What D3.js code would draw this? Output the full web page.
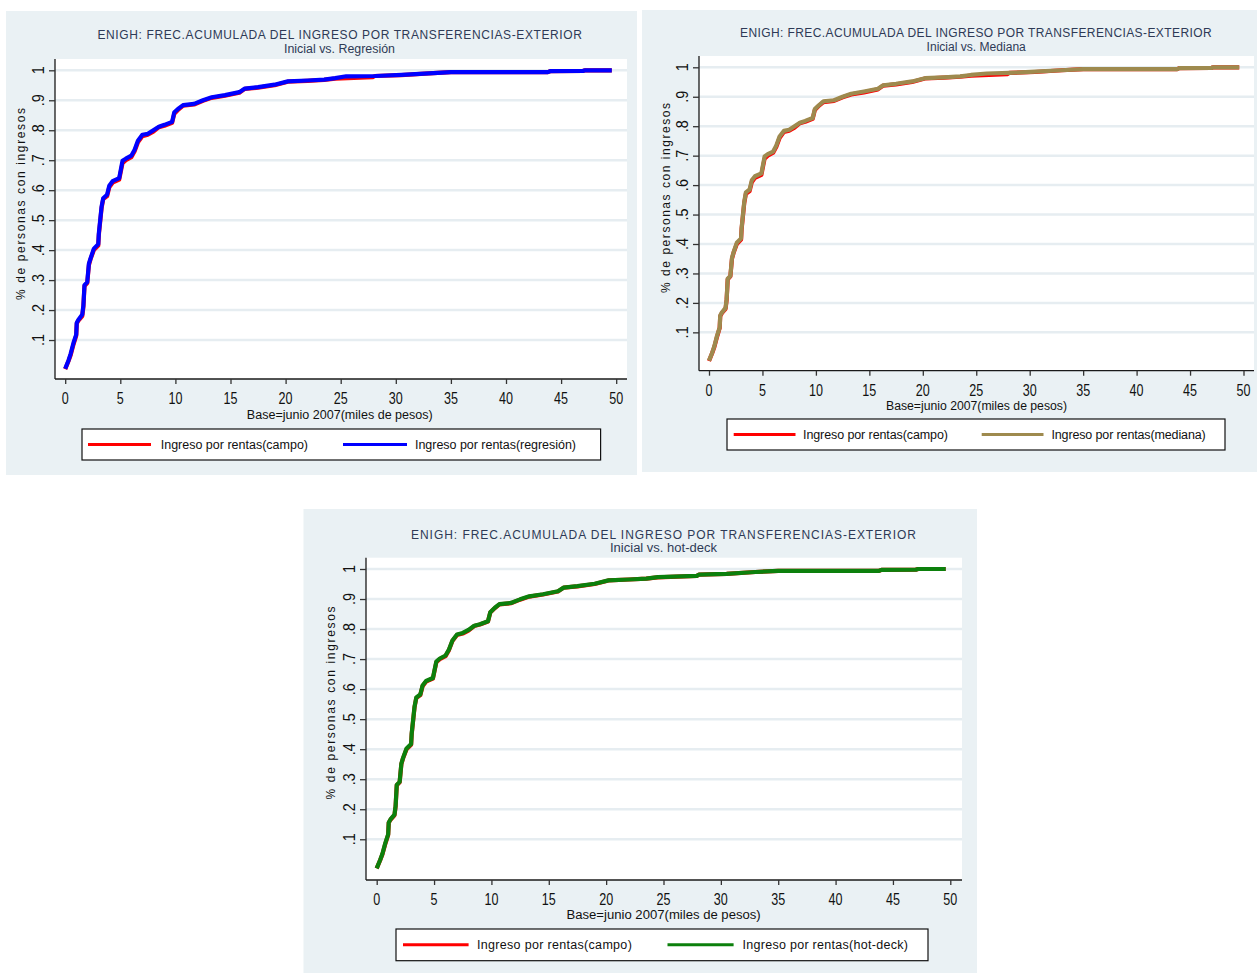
<!DOCTYPE html>
<html><head><meta charset="utf-8">
<script src="https://cdn.jsdelivr.net/npm/d3@7"></script>
<style>
html,body{margin:0;padding:0;background:#ffffff;}
svg text{font-family:"Liberation Sans Narrow","Arial Narrow","Liberation Sans",Arial,sans-serif;}
</style></head>
<body>
<svg id="chart" width="1257" height="974"></svg>
<script>
// ---------- DATA ----------
const titleText = "ENIGH: FREC.ACUMULADA DEL INGRESO POR TRANSFERENCIAS-EXTERIOR";
const subtitles = ["Inicial vs. Regresión", "Inicial vs. Mediana", "Inicial vs. hot-deck"];
const xAxisTitle = "Base=junio 2007(miles de pesos)";
const yAxisTitle = "% de personas con ingresos";
const xTicks = [0, 5, 10, 15, 20, 25, 30, 35, 40, 45, 50];
const yTicks = [0.1, 0.2, 0.3, 0.4, 0.5, 0.6, 0.7, 0.8, 0.9, 1];
const yTickLabels = [".1", ".2", ".3", ".4", ".5", ".6", ".7", ".8", ".9", "1"];
const legendCampo = "Ingreso por rentas(campo)";
const legendOther = ["Ingreso por rentas(regresión)", "Ingreso por rentas(mediana)", "Ingreso por rentas(hot-deck)"];

// Inicial (campo)
const campoX = [0, 0.3, 0.5, 0.75, 1.0, 1.05, 1.2, 1.55, 1.65, 1.75, 2.0, 2.15, 2.3, 2.6, 3.0, 3.05, 3.3, 3.45, 3.8, 4.0, 4.3, 4.9, 5.2, 5.5, 6.0, 6.3, 6.6, 7.0, 7.5, 8.0, 8.5, 9.0, 9.7, 9.9, 10.3, 10.7, 11.7, 12.5, 13.3, 14.5, 15.8, 16.3, 17.5, 19.0, 20.2, 22.0, 23.5, 24.5, 27.9, 28.1, 30.5, 33.0, 35.0, 43.8, 44.0, 47.0, 47.2, 49.6];
const campoY = [0.003, 0.03, 0.05, 0.085, 0.115, 0.155, 0.165, 0.18, 0.21, 0.28, 0.29, 0.35, 0.37, 0.40, 0.415, 0.45, 0.54, 0.57, 0.58, 0.61, 0.625, 0.635, 0.69, 0.70, 0.71, 0.73, 0.76, 0.78, 0.785, 0.795, 0.81, 0.815, 0.825, 0.855, 0.87, 0.882, 0.886, 0.898, 0.908, 0.915, 0.925, 0.938, 0.942, 0.95, 0.962, 0.965, 0.968, 0.972, 0.977, 0.981, 0.984, 0.99, 0.994, 0.994, 0.997, 0.998, 1.0, 1.0];
// Regresión
const regX = [0, 0.3, 0.5, 0.75, 1.0, 1.05, 1.2, 1.55, 1.65, 1.75, 2.0, 2.15, 2.3, 2.6, 3.0, 3.05, 3.3, 3.45, 3.8, 4.0, 4.3, 4.9, 5.2, 5.5, 6.0, 6.3, 6.6, 7.0, 7.5, 8.0, 8.5, 9.0, 9.7, 9.9, 10.3, 10.7, 11.7, 12.5, 13.3, 14.5, 15.8, 16.3, 17.5, 19.0, 20.2, 22.0, 23.5, 24.5, 25.5, 28.1, 30.5, 33.0, 35.0, 43.8, 44.0, 47.0, 47.2, 49.6];
const regY = [0.004, 0.032, 0.055, 0.09, 0.118, 0.158, 0.168, 0.185, 0.215, 0.283, 0.293, 0.355, 0.372, 0.405, 0.42, 0.455, 0.545, 0.573, 0.585, 0.615, 0.63, 0.64, 0.698, 0.705, 0.715, 0.735, 0.765, 0.785, 0.788, 0.80, 0.812, 0.818, 0.828, 0.86, 0.873, 0.884, 0.888, 0.90, 0.91, 0.917, 0.927, 0.939, 0.944, 0.952, 0.963, 0.966, 0.969, 0.974, 0.98, 0.981, 0.985, 0.99, 0.994, 0.994, 0.997, 0.998, 1.0, 1.0];
// Mediana
const medX = [0, 0.3, 0.5, 0.75, 1.0, 1.05, 1.2, 1.55, 1.65, 1.75, 2.0, 2.15, 2.3, 2.6, 3.0, 3.05, 3.3, 3.45, 3.8, 4.0, 4.3, 4.9, 5.2, 5.5, 6.0, 6.3, 6.6, 7.0, 7.5, 8.0, 8.5, 9.0, 9.7, 9.9, 10.3, 10.7, 11.7, 12.5, 13.3, 14.5, 15.8, 16.3, 17.5, 19.0, 20.2, 22.0, 23.5, 24.5, 26.0, 28.1, 30.5, 33.0, 35.0, 43.8, 44.0, 47.0, 47.2, 49.6];
const medY = [0.004, 0.031, 0.053, 0.088, 0.117, 0.157, 0.167, 0.183, 0.213, 0.282, 0.292, 0.353, 0.372, 0.404, 0.419, 0.454, 0.544, 0.575, 0.585, 0.616, 0.63, 0.64, 0.697, 0.705, 0.714, 0.735, 0.765, 0.784, 0.788, 0.80, 0.812, 0.818, 0.828, 0.858, 0.872, 0.884, 0.888, 0.90, 0.91, 0.918, 0.927, 0.939, 0.944, 0.952, 0.963, 0.966, 0.969, 0.974, 0.979, 0.981, 0.985, 0.99, 0.994, 0.994, 0.997, 0.998, 1.0, 1.0];
// Hot-deck
const hotX = [0, 0.3, 0.5, 0.75, 1.0, 1.05, 1.2, 1.55, 1.65, 1.75, 2.0, 2.15, 2.3, 2.6, 3.0, 3.05, 3.3, 3.45, 3.8, 4.0, 4.3, 4.9, 5.2, 5.5, 6.0, 6.3, 6.6, 7.0, 7.5, 8.0, 8.5, 9.0, 9.7, 9.9, 10.3, 10.7, 11.7, 12.5, 13.3, 14.5, 15.8, 16.3, 17.5, 19.0, 20.2, 22.0, 23.5, 24.5, 27.9, 28.1, 30.5, 33.0, 35.0, 43.8, 44.0, 47.0, 47.2, 49.6];
const hotY = [0.003, 0.031, 0.052, 0.087, 0.116, 0.156, 0.166, 0.182, 0.212, 0.281, 0.291, 0.352, 0.371, 0.402, 0.417, 0.452, 0.542, 0.572, 0.582, 0.612, 0.627, 0.637, 0.692, 0.702, 0.712, 0.732, 0.762, 0.782, 0.787, 0.797, 0.811, 0.816, 0.826, 0.856, 0.871, 0.883, 0.887, 0.899, 0.909, 0.916, 0.926, 0.938, 0.943, 0.951, 0.962, 0.965, 0.968, 0.973, 0.977, 0.981, 0.984, 0.99, 0.994, 0.994, 0.997, 0.998, 1.0, 1.0];

const otherX = [regX, medX, hotX];
const otherY = [regY, medY, hotY];
const otherColors = ["#0000ff", "#9e8a4e", "#0c800c"];
const campoColor = "#ff0000";

// ---------- LAYOUT ----------
const panels = [
  {bg:[6,11,637,475], plot:[55,59,627,379], xr:[65.2,616.2], yr:[370,70.3],
   title:[339.7,39.2,484.5], sub:[339.5,52.8,111], ytitle:[20.5,204,192], ytickX:38, xlabY:404.3,
   xtitle:[339.8,418.8], leg:[82,429,600.6,460], l1:[88,151], t1:[160.7,147.3], l2:[343,407], t2:[415,161]},
  {bg:[642,10,1257,472], plot:[699,56,1254,370.7], xr:[709,1243.5], yr:[361.8,67.3],
   title:[975.8,36.6,471.6], sub:[976.2,50.5,99.2], ytitle:[665.6,198,190], ytickX:682, xlabY:395.8,
   xtitle:[976.5,409.6], leg:[727,419,1225,450], l1:[733.7,795.5], t1:[803,145], l2:[981.7,1043.5], t2:[1051.4,154.3]},
  {bg:[303.5,509,977,973], plot:[366,557.7,962,880], xr:[376.7,950.3], yr:[869.3,569],
   title:[663.5,538.9,505], sub:[663.5,551.5,107], ytitle:[330.5,703,193], ytickX:349, xlabY:904.8,
   xtitle:[663.6,919.2], leg:[396,929,928,960.7], l1:[403,468.6], t1:[477,154.8], l2:[667.5,733.6], t2:[742.5,165.4]}
];
const xTitleWidths = [186, 181, 194.3];

const svg = d3.select("#chart");

panels.forEach((p, i) => {
  const g = svg.append("g");
  const [bx0, by0, bx1, by1] = p.bg;
  g.append("rect").attr("x", bx0).attr("y", by0).attr("width", bx1 - bx0).attr("height", by1 - by0).attr("fill", "#eaf1f4");
  const [px0, py0, px1, py1] = p.plot;
  g.append("rect").attr("x", px0).attr("y", py0).attr("width", px1 - px0).attr("height", py1 - py0).attr("fill", "#ffffff");

  const x = d3.scaleLinear().domain([0, 50]).range(p.xr);
  const y = d3.scaleLinear().domain([0, 1]).range(p.yr);

  // gridlines
  g.append("g").selectAll("line").data(yTicks).join("line")
    .attr("x1", px0).attr("x2", px1)
    .attr("y1", d => y(d)).attr("y2", d => y(d))
    .attr("stroke", "#e6edf1").attr("stroke-width", 2.5);

  // axes
  const yAxis = d3.axisLeft(y).tickValues(yTicks).tickSize(6).tickFormat("");
  const ya = g.append("g").attr("transform", `translate(${px0},0)`).call(yAxis);
  ya.select(".domain").attr("d", `M0,${py0}V${py1}`).attr("stroke", "#1a1a1a").attr("stroke-width", 1.3);
  ya.selectAll(".tick line").attr("stroke", "#333").attr("stroke-width", 1.3);

  const xAxis = d3.axisBottom(x).tickValues(xTicks).tickSize(5).tickFormat("");
  const xa = g.append("g").attr("transform", `translate(0,${py1})`).call(xAxis);
  xa.select(".domain").attr("d", `M${px0},0H${px1}`).attr("stroke", "#1a1a1a").attr("stroke-width", 1.3);
  xa.selectAll(".tick line").attr("stroke", "#333").attr("stroke-width", 1.3);

  // x tick labels (narrowed)
  g.append("g").selectAll("text").data(xTicks).join("text")
    .attr("transform", d => `translate(${x(d)},${p.xlabY}) scale(0.74,1)`)
    .attr("text-anchor", "middle").attr("font-size", 17).attr("fill", "#111")
    .text(d => d);
  // y tick labels (rotated, narrowed)
  g.append("g").selectAll("text").data(yTicks).join("text")
    .attr("transform", d => `translate(${p.ytickX},${y(d)}) rotate(-90) scale(0.85,1)`)
    .attr("text-anchor", "middle").attr("dy", "0.36em").attr("font-size", 17).attr("fill", "#111")
    .text((d, k) => yTickLabels[k]);

  // series
  const line = d3.line().x(d => x(d[0])).y(d => y(d[1])).curve(d3.curveLinear);
  const campoPts = campoX.map((v, k) => [v, campoY[k]]);
  const otherPts = otherX[i].map((v, k) => [v, otherY[i][k]]);
  g.append("path").datum(campoPts).attr("d", line).attr("fill", "none")
    .attr("stroke", campoColor).attr("stroke-width", 4.2).attr("stroke-linejoin", "round");
  g.append("path").datum(otherPts).attr("d", line).attr("fill", "none")
    .attr("stroke", otherColors[i]).attr("stroke-width", 4.2).attr("stroke-linejoin", "round");

  // titles
  g.append("text").attr("x", p.title[0]).attr("y", p.title[1]).attr("text-anchor", "middle")
    .attr("font-size", 12).attr("fill", "#2e3a56").attr("textLength", p.title[2]).attr("lengthAdjust", "spacing")
    .text(titleText);
  g.append("text").attr("x", p.sub[0]).attr("y", p.sub[1]).attr("text-anchor", "middle")
    .attr("font-size", 12).attr("fill", "#2e3a56").attr("textLength", p.sub[2]).attr("lengthAdjust", "spacingAndGlyphs")
    .text(subtitles[i]);
  // axis titles
  g.append("text").attr("x", p.xtitle[0]).attr("y", p.xtitle[1]).attr("text-anchor", "middle")
    .attr("font-size", 12).attr("fill", "#111").attr("textLength", xTitleWidths[i]).attr("lengthAdjust", "spacingAndGlyphs")
    .text(xAxisTitle);
  g.append("text").attr("transform", `translate(${p.ytitle[0]},${p.ytitle[1]}) rotate(-90)`)
    .attr("text-anchor", "middle").attr("dy", "0.35em")
    .attr("font-size", 12).attr("fill", "#111").attr("textLength", p.ytitle[2]).attr("lengthAdjust", "spacing")
    .text(yAxisTitle);

  // legend
  const [lx0, ly0, lx1, ly1] = p.leg;
  const lg = g.append("g");
  lg.append("rect").attr("x", lx0).attr("y", ly0).attr("width", lx1 - lx0).attr("height", ly1 - ly0)
    .attr("fill", "#ffffff").attr("stroke", "#111").attr("stroke-width", 1.2);
  const ly = (ly0 + ly1) / 2;
  lg.append("line").attr("x1", p.l1[0]).attr("x2", p.l1[1]).attr("y1", ly).attr("y2", ly)
    .attr("stroke", campoColor).attr("stroke-width", 3);
  lg.append("line").attr("x1", p.l2[0]).attr("x2", p.l2[1]).attr("y1", ly).attr("y2", ly)
    .attr("stroke", otherColors[i]).attr("stroke-width", 3);
  lg.append("text").attr("x", p.t1[0]).attr("y", ly).attr("dy", "0.35em")
    .attr("font-size", 12.5).attr("fill", "#111").attr("textLength", p.t1[1]).attr("lengthAdjust", "spacing")
    .text(legendCampo);
  lg.append("text").attr("x", p.t2[0]).attr("y", ly).attr("dy", "0.35em")
    .attr("font-size", 12.5).attr("fill", "#111").attr("textLength", p.t2[1]).attr("lengthAdjust", "spacing")
    .text(legendOther[i]);
});
</script>
</body></html>
